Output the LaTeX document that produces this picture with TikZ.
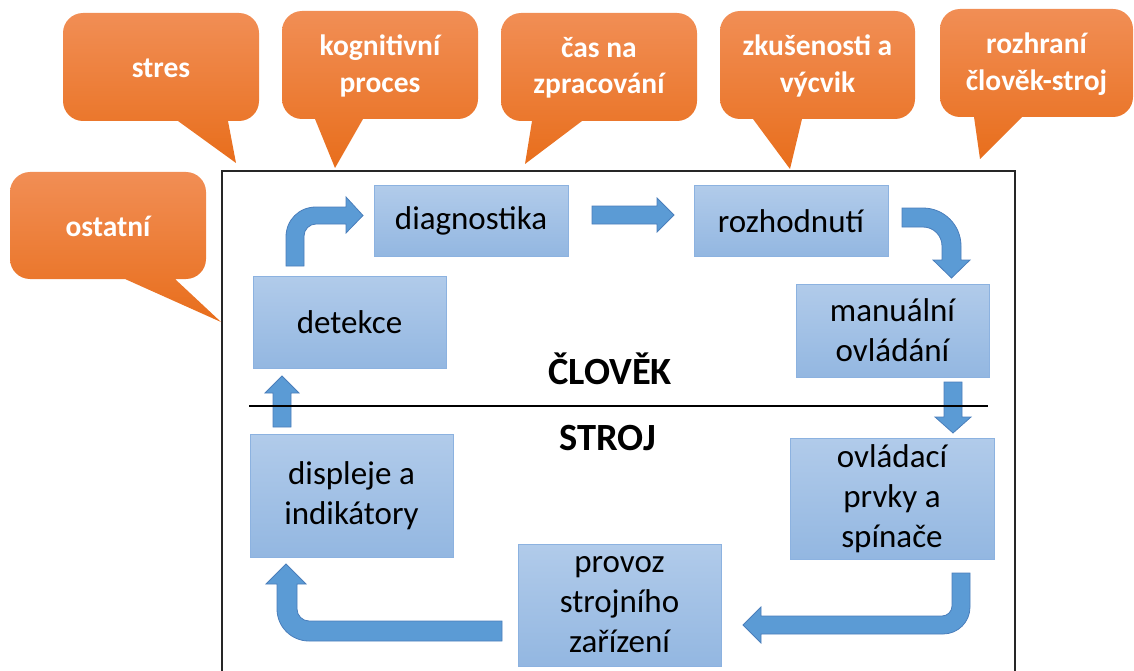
\documentclass[tikz,border=0pt]{standalone}
\usepackage{fontspec}
\setmainfont{Carlito}
\definecolor{calltop}{HTML}{F18E55}
\definecolor{callbot}{HTML}{E86E1C}
\definecolor{boxtop}{HTML}{B1CBEA}
\definecolor{boxbot}{HTML}{93B7E1}
\definecolor{boxline}{HTML}{8CB2E0}
\definecolor{arrowfill}{HTML}{5B9BD5}
\definecolor{arrowline}{HTML}{4A7EBB}
\definecolor{framecol}{HTML}{262626}

\tikzset{
  stepbox/.style={draw=boxline, line width=1pt, top color=boxtop, bottom color=boxbot,
    text=black, font=\fontsize{33}{40}\selectfont, align=center, inner sep=0pt},
  blockarrow/.style={fill=arrowfill, draw=arrowline, line width=0.8pt, line join=miter},
  bubble/.style={top color=calltop, bottom color=callbot},
  bubbletext/.style={text=white, font=\bfseries\fontsize{29.5}{36.5}\selectfont, align=center},
  sidetext/.style={font=\bfseries\fontsize{38.5}{44}\selectfont},
}

% rounded speech bubble: #1,#2 top-left, #3,#4 bottom-right,
% #5,#6 tail base on the bottom edge, #7,#8 tail tip
\newcommand\speechbubble[8]{%
  \shade[bubble] ({#1+20},#2) -- ({#3-20},#2)
    .. controls ({#3-9},#2) and (#3,{#2+9}) .. (#3,{#2+20})
    -- (#3,{#4-20})
    .. controls (#3,{#4-9}) and ({#3-9},#4) .. ({#3-20},#4)
    -- (#6,#4) -- (#7,#8) -- (#5,#4)
    -- ({#1+20},#4)
    .. controls ({#1+9},#4) and (#1,{#4-9}) .. (#1,{#4-20})
    -- (#1,{#2+20})
    .. controls (#1,{#2+9}) and ({#1+9},#2) .. cycle;}

\begin{document}
\begin{tikzpicture}[x=1pt, y=-1pt]
\useasboundingbox (0,0) rectangle (1134,671);

% outer frame (open at the bottom)
\draw[framecol, line width=1.5pt] (222,671) -- (222,171) -- (1015,171) -- (1015,671);

% influence bubbles
\speechbubble{63}{13}{259}{121}{178}{228}{236}{163}
\speechbubble{282}{11}{478}{119}{315}{363}{335}{168}
\speechbubble{501}{13}{697}{121}{532}{582}{525}{164}
\speechbubble{720}{11}{915}{119}{753}{802}{790}{169}
\speechbubble{940}{9}{1133}{117}{974}{1022}{980}{159}
\speechbubble{10}{172}{206}{279}{125}{175}{221}{322}

\node[bubbletext] (stres) at (161,68) {stres};
\node[bubbletext] (kog) at (380,66) {kognitivní\\proces};
\node[bubbletext] (cas) at (599,68) {čas na\\zpracování};
\node[bubbletext] (zkus) at (817.5,66) {zkušenosti a\\výcvik};
\node[bubbletext] (rozhr) at (1036.5,64) {rozhraní\\člověk-stroj};
\node[bubbletext] (ost) at (108,226) {ostatní};

% process steps
\node[stepbox, minimum width=194pt, minimum height=70pt] (diag) at (471,221) {diagnostika};
\node[stepbox, minimum width=194pt, minimum height=70pt] (rozh) at (791,221) {rozhodnutí};
\node[stepbox, minimum width=193pt, minimum height=92pt] (det) at (349.5,322) {detekce};
\node[stepbox, minimum width=193pt, minimum height=93pt] (man) at (892.5,330.5) {manuální\\ovládání};
\node[stepbox, minimum width=204pt, minimum height=121pt] (ovl) at (892,498.5) {ovládací\\prvky a\\spínače};
\node[stepbox, minimum width=203pt, minimum height=123pt] (disp) at (351.5,495.5) {displeje a\\indikátory};
\node[stepbox, minimum width=203pt, minimum height=122pt] (prov) at (619.5,605) {provoz\\strojního\\zařízení};

% detekce -> diagnostika
\draw[blockarrow] (286,266) -- (286,237)
  .. controls (286,220) and (299,207) .. (316,207)
  -- (346,207) -- (346,197) -- (363,215.5) -- (346,233) -- (346,224) -- (316,224)
  .. controls (309.4,224) and (304,229.4) .. (304,236) -- (304,266) -- cycle;
% diagnostika -> rozhodnutí
\draw[blockarrow] (592,206) -- (657,206) -- (657,198) -- (674,215) -- (657,232)
  -- (657,224) -- (592,224) -- cycle;
% rozhodnutí -> manuální ovládání
\draw[blockarrow] (902,208) -- (923,208)
  .. controls (944,208) and (961,225) .. (961,246)
  -- (961,260) -- (970,260) -- (951.5,278) -- (933,260) -- (942,260) -- (942,246)
  .. controls (942,235.5) and (933.5,227) .. (923,227) -- (902,227) -- cycle;
% manuální ovládání -> ovládací prvky
\draw[blockarrow] (944,382) -- (962,382) -- (962,417) -- (971,417) -- (953,433)
  -- (935,417) -- (944,417) -- cycle;
% ovládací prvky -> provoz
\draw[blockarrow] (952,573) -- (970,573) -- (970,607)
  .. controls (970,622) and (958,634) .. (943,634)
  -- (761,634) -- (761,643) -- (743,625) -- (761,607) -- (761,616) -- (942,616)
  .. controls (947.5,616) and (952,611.5) .. (952,606) -- cycle;
% provoz -> displeje
\draw[blockarrow] (502,621) -- (309,621)
  .. controls (302.4,621) and (297,615.6) .. (297,609)
  -- (297,584) -- (306,584) -- (286,564) -- (266,584) -- (277,584) -- (277,609)
  .. controls (277,626.7) and (291.3,641) .. (309,641) -- (502,641) -- cycle;
% displeje -> detekce
\draw[blockarrow] (273,427) -- (273,393) -- (265,393) -- (282,376) -- (299,393)
  -- (291,393) -- (291,427) -- cycle;

% human / machine divider
\draw[black, line width=1.8pt] (249,406) -- (988,406);
\node[sidetext] (clovek) at (610,369) {ČLOVĚK};
\node[sidetext] (stroj) at (608,438) {STROJ};
\end{tikzpicture}
\end{document}
